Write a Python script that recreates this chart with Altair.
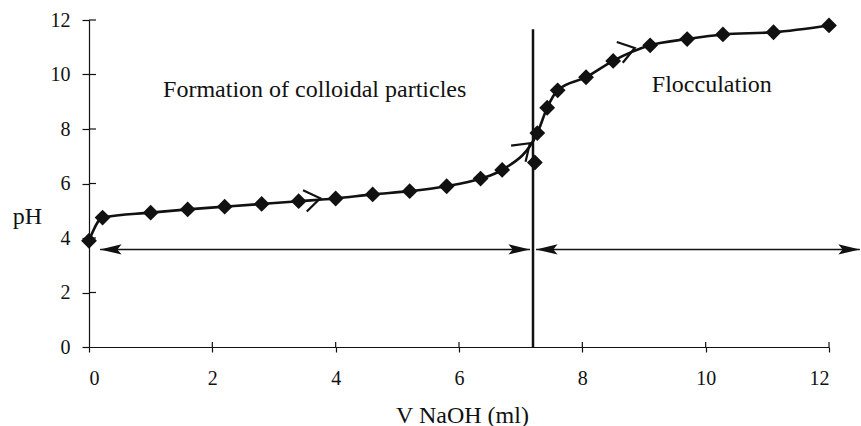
import altair as alt
import pandas as pd

# ---- data ----
V_NAOH = [0.0, 0.22, 1.0, 1.6, 2.2, 2.8, 3.4, 4.0, 4.6, 5.2, 5.8, 6.35, 6.7,
          7.23, 7.27, 7.43, 7.6, 8.06, 8.5, 9.1, 9.7, 10.28, 11.1, 12.0]
PH = [3.9, 4.75, 4.93, 5.05, 5.15, 5.25, 5.35, 5.45, 5.6, 5.72, 5.9, 6.18, 6.5,
      6.77, 7.85, 8.78, 9.42, 9.9, 10.5, 11.07, 11.3, 11.47, 11.55, 11.8]
ON_CURVE = [True] * 13 + [False] + [True] * 10   # the low point at 7.23 sits off the line

X_TICKS = [0, 2, 4, 6, 8, 10, 12]
Y_TICKS = [0, 2, 4, 6, 8, 10, 12]

DIVIDER_X = 7.2
DIVIDER_TOP = 11.66
SPAN_Y = 3.58
SPAN_LEFT = [0.18, 7.15]
SPAN_RIGHT = [7.25, 12.5]

CHEVRON_X = [3.75, 7.15, 8.85]
CHEVRON_Y = [5.46, 7.48, 10.97]
CHEVRON_ANGLE = [350, 318, 344]

LABELS = ["Formation of colloidal particles", "Flocculation"]
LABEL_X = [3.66, 10.1]
LABEL_Y = [9.19, 9.375]

FONT = "Liberation Serif"
INK = "#111111"

pts = pd.DataFrame({"v": V_NAOH, "ph": PH, "on": ON_CURVE})
curve = pts[pts["on"]]

xs = alt.Scale(domain=[0, 12], nice=False, zero=False)
ys = alt.Scale(domain=[0, 12], nice=False, zero=False)

x_axis = alt.Axis(values=X_TICKS, title="V NaOH (ml)", grid=False, tickSize=5,
                  labelPadding=16, titleX=373, titleY=75, titleAlign="center",
                  titleBaseline="alphabetic", format="d")
y_axis = alt.Axis(values=Y_TICKS, title="pH", grid=False, tickSize=7,
                  labelPadding=12, titleAngle=0, titleX=-62, titleY=203,
                  titleAlign="center", titleBaseline="alphabetic", format="d")

line = alt.Chart(curve).mark_line(interpolate="monotone", color=INK, strokeWidth=2.6).encode(
    x=alt.X("v:Q", scale=xs, axis=x_axis),
    y=alt.Y("ph:Q", scale=ys, axis=y_axis),
)

dots = alt.Chart(pts).mark_point(shape="diamond", filled=True, size=250, color=INK, opacity=1).encode(
    x=alt.X("v:Q", scale=xs), y=alt.Y("ph:Q", scale=ys)
)

divider = alt.Chart(pd.DataFrame({"x": [DIVIDER_X], "y0": [0], "y1": [DIVIDER_TOP]})).mark_rule(
    color=INK, strokeWidth=2.5).encode(
    x=alt.X("x:Q", scale=xs), y=alt.Y("y0:Q", scale=ys), y2="y1:Q")

spans = pd.DataFrame({"a": [SPAN_LEFT[0], SPAN_RIGHT[0]], "b": [SPAN_LEFT[1], SPAN_RIGHT[1]],
                      "y": [SPAN_Y, SPAN_Y]})
span_rules = alt.Chart(spans).mark_rule(color=INK, strokeWidth=1.6).encode(
    x=alt.X("a:Q", scale=xs), x2="b:Q", y=alt.Y("y:Q", scale=ys))

LEFT_HEAD = "M0,0L1,-0.24L0.8,0L1,0.24Z"
RIGHT_HEAD = "M0,0L-1,-0.24L-0.8,0L-1,0.24Z"
left_heads = alt.Chart(pd.DataFrame({"x": [SPAN_LEFT[0], SPAN_RIGHT[0]], "y": [SPAN_Y, SPAN_Y]})).mark_point(
    shape=LEFT_HEAD, filled=True, size=1850, color=INK, opacity=1, strokeWidth=0).encode(
    x=alt.X("x:Q", scale=xs), y=alt.Y("y:Q", scale=ys))
right_heads = alt.Chart(pd.DataFrame({"x": [SPAN_LEFT[1], SPAN_RIGHT[1]], "y": [SPAN_Y, SPAN_Y]})).mark_point(
    shape=RIGHT_HEAD, filled=True, size=1850, color=INK, opacity=1, strokeWidth=0).encode(
    x=alt.X("x:Q", scale=xs), y=alt.Y("y:Q", scale=ys))

CHEVRON = "M-0.82,-0.57L0,0L-0.82,0.57"
chev = alt.Chart(pd.DataFrame({"x": CHEVRON_X, "y": CHEVRON_Y, "ang": CHEVRON_ANGLE})).mark_point(
    shape=CHEVRON, filled=False, size=1444, color=INK, strokeWidth=2.2, opacity=1).encode(
    x=alt.X("x:Q", scale=xs), y=alt.Y("y:Q", scale=ys),
    angle=alt.Angle("ang:Q", scale=None))

texts = alt.Chart(pd.DataFrame({"x": LABEL_X, "y": LABEL_Y, "t": LABELS})).mark_text(
    font=FONT, fontSize=24, color=INK, align="center", baseline="alphabetic").encode(
    x=alt.X("x:Q", scale=xs), y=alt.Y("y:Q", scale=ys), text="t:N")

# inner halves of the crossing tick marks
x_in = alt.Chart(pd.DataFrame({"x": X_TICKS[1:]})).mark_rule(color=INK, strokeWidth=1.2).encode(
    x=alt.X("x:Q", scale=xs), y=alt.value(327), y2=alt.value(322))
y_in = alt.Chart(pd.DataFrame({"y": Y_TICKS[1:]})).mark_rule(color=INK, strokeWidth=1.2).encode(
    y=alt.Y("y:Q", scale=ys), x=alt.value(0), x2=alt.value(7))

chart = alt.layer(line, divider, span_rules, left_heads, right_heads, chev, dots, texts, x_in, y_in).properties(
    width=740, height=327,
    autosize=alt.AutoSizeParams(type="none"),
    padding={"left": 89, "top": 20, "right": 32, "bottom": 79},
    background="white",
).configure_view(stroke=None).configure_axis(
    domainColor=INK, domainWidth=1.2, tickColor=INK, tickWidth=1.2,
    labelFont=FONT, labelFontSize=20, labelColor=INK,
    titleFont=FONT, titleFontSize=24, titleFontWeight="normal", titleColor=INK,
)

chart.save("out.html", embed_options={"renderer": "svg", "actions": False})
